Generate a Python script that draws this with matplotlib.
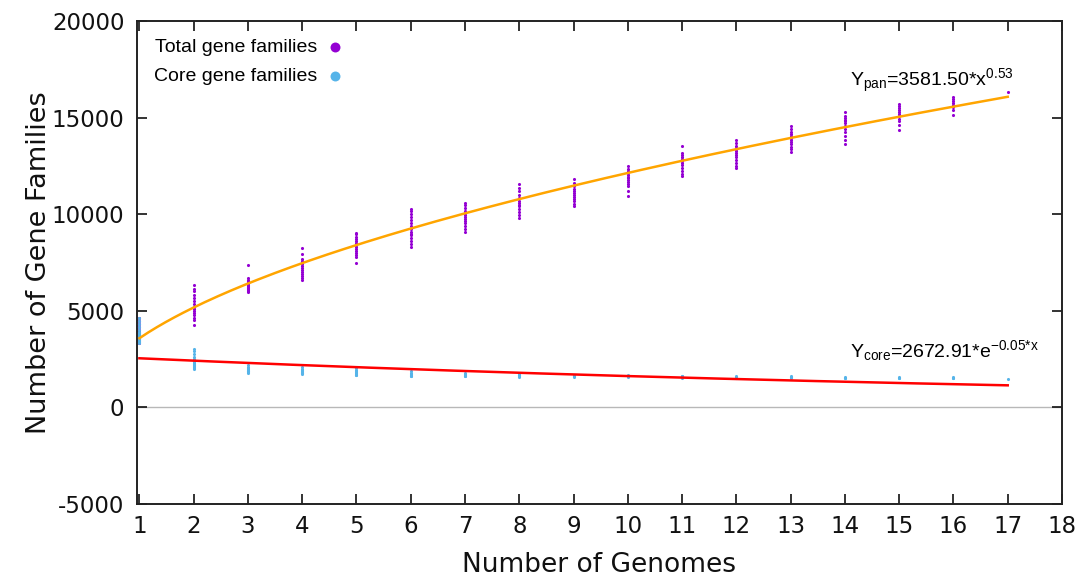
import numpy as np
import matplotlib
matplotlib.use('Agg')
import matplotlib.pyplot as plt

plt.rcParams['font.family'] = 'DejaVu Sans'
plt.rcParams['axes.unicode_minus'] = False
plt.rcParams['mathtext.fontset'] = 'custom'
plt.rcParams['mathtext.rm'] = 'Liberation Sans'
plt.rcParams['mathtext.it'] = 'Liberation Sans:italic'

# gene family counts, one list per number of genomes
genomes = list(range(1, 18))
total_families = [
    [3350, 3400, 3450, 3500, 3550, 3600, 3650, 3700, 3750, 3800, 3850, 3900, 4000, 4150, 4300, 4450, 4630],
    [4260, 4500, 4650, 4800, 4900, 5000, 5100, 5200, 5350, 5500, 5650, 5800, 6000, 6150, 6340],
    [5980, 6050, 6100, 6150, 6200, 6250, 6300, 6350, 6400, 6450, 6500, 6550, 6600, 6700, 7380],
    [6600, 6700, 6800, 6900, 7000, 7100, 7200, 7300, 7400, 7500, 7600, 7700, 7950, 8270],
    [7480, 7800, 7900, 8000, 8100, 8200, 8300, 8400, 8500, 8600, 8700, 8800, 8950, 9040],
    [8320, 8450, 8600, 8750, 8900, 9000, 9100, 9250, 9400, 9550, 9700, 9850, 10000, 10150, 10290],
    [9100, 9250, 9400, 9550, 9650, 9750, 9850, 9950, 10050, 10150, 10300, 10450, 10600],
    [9820, 9950, 10100, 10250, 10400, 10500, 10600, 10700, 10850, 11000, 11200, 11350, 11540],
    [10400, 10550, 10700, 10800, 10900, 11000, 11100, 11200, 11300, 11450, 11600, 11800],
    [10920, 11200, 11440, 11550, 11650, 11750, 11850, 11950, 12050, 12150, 12250, 12350, 12480],
    [11960, 12100, 12250, 12400, 12550, 12650, 12750, 12850, 12950, 13050, 13150, 13510],
    [12370, 12500, 12650, 12800, 12950, 13050, 13150, 13250, 13350, 13450, 13550, 13700, 13830],
    [13200, 13350, 13500, 13650, 13750, 13850, 13950, 14050, 14150, 14250, 14400, 14550],
    [13620, 13850, 14050, 14250, 14400, 14550, 14700, 14800, 14900, 15000, 15100, 15280],
    [14350, 14600, 14800, 14950, 15100, 15200, 15300, 15400, 15500, 15600, 15700],
    [15130, 15400, 15550, 15650, 15750, 15850, 15950, 16060],
    [16320],
]
core_families = [
    [3350, 3400, 3450, 3500, 3550, 3600, 3650, 3700, 3750, 3800, 3850, 3900, 4000, 4150, 4300, 4450, 4630],
    [1980, 2050, 2100, 2150, 2200, 2250, 2300, 2350, 2400, 2500, 2600, 2750, 2900, 3010],
    [1770, 1820, 1870, 1900, 1950, 2000, 2050, 2100, 2180],
    [1720, 1760, 1800, 1850, 1900, 1950, 2000, 2080],
    [1660, 1700, 1750, 1800, 1850, 1900, 1950, 2030],
    [1610, 1650, 1700, 1750, 1800, 1870],
    [1600, 1640, 1680, 1720, 1760],
    [1580, 1620, 1660, 1700, 1740],
    [1570, 1610, 1650, 1690],
    [1560, 1600, 1640, 1670],
    [1540, 1570, 1600, 1630],
    [1530, 1560, 1590, 1620],
    [1520, 1550, 1580, 1610],
    [1510, 1540, 1570],
    [1500, 1530, 1560],
    [1500, 1520, 1550],
    [1490],
]

# fitted models as printed on the chart
pan_a, pan_b = 3581.50, 0.53
core_a, core_b = 2672.91, -0.05

purple = '#9400D3'
blue = '#56B4E9'

fig = plt.figure(figsize=(10.88, 5.83), dpi=100)
ax = fig.add_axes([0.1259, 0.1355, 0.8502, 0.8285])

ax.axhline(0, color='#b8b8b8', lw=1, zorder=1)

tx = [g for g, v in zip(genomes, total_families) for _ in v]
ty = [y for v in total_families for y in v]
cx = [g for g, v in zip(genomes, core_families) for _ in v]
cy = [y for v in core_families for y in v]
ax.scatter(tx, ty, s=5, color=purple, lw=0, zorder=3, label='Total gene families')
ax.scatter(cx, cy, s=5, color=blue, lw=0, zorder=4, label='Core gene families')

xf = np.linspace(1, 17, 200)
ax.plot(xf, pan_a * xf ** pan_b, color='#FFA500', lw=1.8, zorder=5)
ax.plot(xf, core_a * np.exp(core_b * xf), color='#FF0000', lw=1.8, zorder=5)

ax.text(14.1, 16650, r'Y$_{\mathrm{pan}}$=3581.50*x$^{\mathrm{0.53}}$',
        fontsize=14, family='Liberation Sans', va='baseline')
ax.text(14.1, 2600, r'Y$_{\mathrm{core}}$=2672.91*e$^{\mathrm{-0.05{*}x}}$',
        fontsize=14, family='Liberation Sans', va='baseline')

ax.set_xlim(0.955, 18)
ax.set_ylim(-5000, 20000)
ax.set_xticks(range(1, 19))
ax.set_yticks(range(-5000, 20001, 5000))
ax.tick_params(direction='in', length=7, width=1.2, top=True, right=True,
               labelsize=16.5, colors='#111111')
ax.tick_params(axis='x', pad=8)
ax.tick_params(axis='y', pad=9)
for sp in ax.spines.values():
    sp.set_linewidth(1.4)
    sp.set_color('#222222')

ax.set_xlabel('Number of Genomes', fontsize=19, color='#111111', labelpad=10)
ax.set_ylabel('Number of Gene Families', fontsize=19.5, color='#111111', labelpad=0)

leg = ax.legend(loc='upper left', bbox_to_anchor=(0.0, 1.0), frameon=False,
                markerfirst=False, markerscale=3.2, handlelength=0.6, handletextpad=0.6,
                labelspacing=0.6, borderaxespad=0.5,
                prop={'family': 'Liberation Sans', 'size': 14})

fig.savefig('out.png', dpi=100)
